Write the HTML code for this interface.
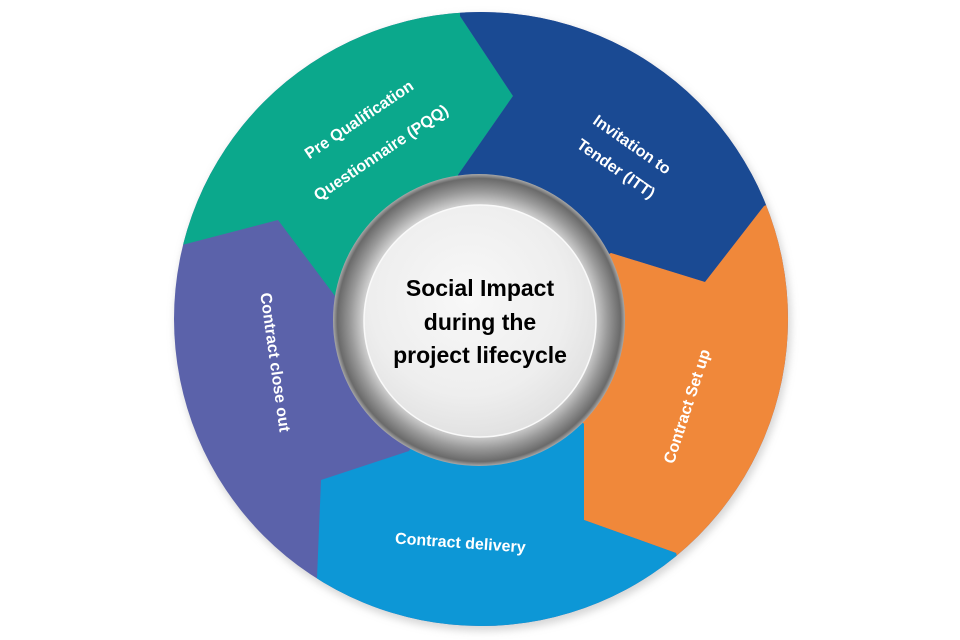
<!DOCTYPE html>
<html><head><meta charset="utf-8"><style>
html,body{margin:0;padding:0;background:#fff;width:960px;height:640px;overflow:hidden}
text{font-family:"Liberation Sans",sans-serif;font-weight:bold}
</style></head><body>
<svg width="960" height="640" viewBox="0 0 960 640" xmlns="http://www.w3.org/2000/svg">
<defs>
<clipPath id="c"><circle cx="481" cy="319" r="307"/></clipPath>
<radialGradient id="ring" cx="0.5" cy="0.5" r="0.5">
<stop offset="0.78" stop-color="#d8d8d8"/>
<stop offset="0.88" stop-color="#9a9a9a"/>
<stop offset="0.97" stop-color="#6a6a6a"/>
<stop offset="1" stop-color="#a8a8a8"/>
</radialGradient>
<radialGradient id="wh" cx="0.45" cy="0.4" r="0.6">
<stop offset="0" stop-color="#f8f8f8"/>
<stop offset="0.7" stop-color="#eeeeee"/>
<stop offset="1" stop-color="#e2e2e2"/>
</radialGradient>
<filter id="sh" x="-10%" y="-10%" width="120%" height="120%"><feGaussianBlur stdDeviation="4"/></filter>
</defs>
<circle cx="483" cy="323" r="308" fill="#bbb" filter="url(#sh)" opacity="0.6"/>
<g clip-path="url(#c)">
<rect x="0" y="0" width="960" height="640" fill="#5b62aa"/>
<polygon points="100,0 460,0 460,16 513,96 458,175 481,319 335,296 278,220 182,245 100,260" fill="#0ba88c"/>
<polygon points="460,0 900,0 900,150 764,206 705,282 611,253 481,319 458,175 513,96 460,16" fill="#1a4a93"/>
<polygon points="764,206 900,150 900,640 700,640 676,553 584,520 584,424 481,319 611,253 705,282" fill="#f0883a"/>
<polygon points="676,553 700,640 300,640 317,578 321,480 409,451 481,319 584,424 584,520" fill="#0d97d6"/>
</g>
<circle cx="479" cy="320" r="146" fill="url(#ring)"/>
<circle cx="480" cy="321" r="116" fill="url(#wh)" stroke="#fafafa" stroke-width="1.5"/>
<g font-size="23" fill="#000" text-anchor="middle">
<text x="480" y="296">Social Impact</text>
<text x="480" y="330">during the</text>
<text x="480" y="363">project lifecycle</text>
</g>
<g font-size="16" fill="#fff" text-anchor="middle">
<text transform="translate(362,124) rotate(-34)">Pre Qualification</text>
<text transform="translate(384,157) rotate(-34)">Questionnaire (PQQ)</text>
<text transform="translate(629,149) rotate(35)">Invitation to</text>
<text transform="translate(613,173) rotate(35)">Tender (ITT)</text>
<text transform="translate(692,408) rotate(-72)">Contract Set up</text>
<text transform="translate(460,548) rotate(4)">Contract delivery</text>
<text transform="translate(270,363) rotate(82)">Contract close out</text>
</g>
</svg>
</body></html>
